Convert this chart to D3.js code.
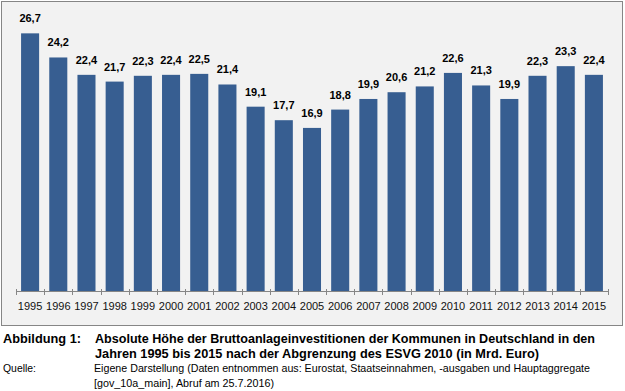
<!DOCTYPE html>
<html>
<head>
<meta charset="utf-8">
<script src="https://cdn.jsdelivr.net/npm/d3@7.9.0/dist/d3.min.js"></script>
<style>
  html, body { margin: 0; padding: 0; background: #fff; }
  svg { display: block; }
</style>
</head>
<body>
<svg id="chart"></svg>
<script>
const width = 625;
const height = 391;

// data
const years = ["1995", "1996", "1997", "1998", "1999", "2000", "2001", "2002", "2003", "2004", "2005",
               "2006", "2007", "2008", "2009", "2010", "2011", "2012", "2013", "2014", "2015"];
const values = [26.7, 24.2, 22.4, 21.7, 22.3, 22.4, 22.5, 21.4, 19.1, 17.7, 16.9,
                18.8, 19.9, 20.6, 21.2, 22.6, 21.3, 19.9, 22.3, 23.3, 22.4];

const captionLabel = "Abbildung 1:";
const captionLines = [
    "Absolute Höhe der Bruttoanlageinvestitionen der Kommunen in Deutschland in den",
    "Jahren 1995 bis 2015 nach der Abgrenzung des ESVG 2010 (in Mrd. Euro)"
];
const sourceLabel = "Quelle:";
const sourceLines = [
    "Eigene Darstellung (Daten entnommen aus: Eurostat, Staatseinnahmen, -ausgaben und Hauptaggregate",
    "[gov_10a_main], Abruf am 25.7.2016)"
];

const svg = d3.select("#chart").attr("width", width).attr("height", height);

// chart box
svg.append("rect")
    .attr("x", 1.5).attr("y", 1.5)
    .attr("width", 621).attr("height", 324)
    .attr("fill", "#f2f2f2")
    .attr("stroke", "#868686")
    .attr("stroke-width", 1);

const x = d3.scaleBand()
    .domain(years)
    .range([16, 608])
    .paddingInner(0.36)
    .paddingOuter(0.18);

const y = d3.scaleLinear()
    .domain([0, 30])
    .range([291, 1.5]);

const data = years.map((yr, i) => ({year: yr, value: values[i]}));

svg.append("g")
    .selectAll("rect")
    .data(data)
    .join("rect")
    .attr("x", d => x(d.year))
    .attr("y", d => y(d.value))
    .attr("width", x.bandwidth())
    .attr("height", d => y(0) - y(d.value))
    .attr("fill", "#375e91");

// value labels
svg.append("g")
    .selectAll("text")
    .data(data)
    .join("text")
    .attr("x", d => x(d.year) + x.bandwidth() / 2)
    .attr("y", d => y(d.value) - 11)
    .attr("text-anchor", "middle")
    .style("font-family", "'Liberation Sans', Arial, sans-serif")
    .style("font-size", "11px")
    .style("font-weight", "bold")
    .style("fill", "#000")
    .text(d => d.value.toFixed(1).replace(".", ","));

// x axis: labels from d3 axis, ticks on the band boundaries
const axis = svg.append("g")
    .attr("transform", `translate(0, ${y(0) + 0.5})`)
    .call(d3.axisBottom(x).tickSize(0).tickPadding(11));
axis.select(".domain").remove();
axis.selectAll("text")
    .style("font-family", "'Liberation Sans', Arial, sans-serif")
    .style("font-size", "11px")
    .style("fill", "#111");

const bounds = years.map(yr => x(yr) + x.bandwidth() / 2 - x.step() / 2);
bounds.push(bounds[bounds.length - 1] + x.step());

svg.append("line")
    .attr("x1", bounds[0]).attr("x2", bounds[bounds.length - 1])
    .attr("y1", y(0) + 0.5).attr("y2", y(0) + 0.5)
    .attr("stroke", "#868686");

svg.append("g")
    .selectAll("line")
    .data(bounds)
    .join("line")
    .attr("x1", d => Math.round(d) + 0.5).attr("x2", d => Math.round(d) + 0.5)
    .attr("y1", y(0) - 2).attr("y2", y(0) + 4)
    .attr("stroke", "#868686");

// caption
const cap = svg.append("g").style("font-family", "'Liberation Sans', Arial, sans-serif").style("fill", "#000");

cap.append("text")
    .attr("x", 3).attr("y", 343)
    .attr("textLength", 78).attr("lengthAdjust", "spacingAndGlyphs")
    .style("font-size", "12.5px").style("font-weight", "bold")
    .text(captionLabel);

const capWidths = [500, 444];
captionLines.forEach((t, i) => {
    cap.append("text")
        .attr("x", 95).attr("y", 343 + i * 15)
        .attr("textLength", capWidths[i]).attr("lengthAdjust", "spacingAndGlyphs")
        .style("font-size", "12.5px").style("font-weight", "bold")
        .text(t);
});

cap.append("text")
    .attr("x", 3).attr("y", 372)
    .attr("textLength", 33).attr("lengthAdjust", "spacingAndGlyphs")
    .style("font-size", "10.5px")
    .text(sourceLabel);

const srcWidths = [496, 180];
sourceLines.forEach((t, i) => {
    cap.append("text")
        .attr("x", 94).attr("y", 372 + i * 15)
        .attr("textLength", srcWidths[i]).attr("lengthAdjust", "spacingAndGlyphs")
        .style("font-size", "10.5px")
        .text(t);
});
</script>
</body>
</html>
